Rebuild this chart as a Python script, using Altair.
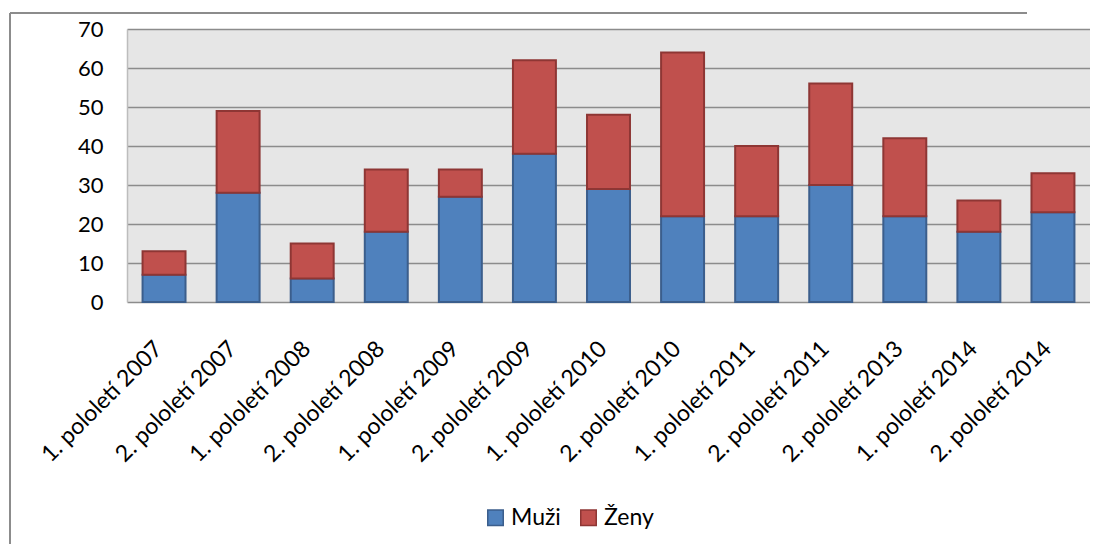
import altair as alt
import pandas as pd

periods = ["1. pololetí 2007", "2. pololetí 2007", "1. pololetí 2008", "2. pololetí 2008",
           "1. pololetí 2009", "2. pololetí 2009", "1. pololetí 2010", "2. pololetí 2010",
           "1. pololetí 2011", "2. pololetí 2011", "2. pololetí 2013", "1. pololetí 2014",
           "2. pololetí 2014"]
muzi = [7, 28, 6, 18, 27, 38, 29, 22, 22, 30, 22, 18, 23]
zeny = [6, 21, 9, 16, 7, 24, 19, 42, 18, 26, 20, 8, 10]
series = ["Muži", "Ženy"]
y_ticks = [0, 10, 20, 30, 40, 50, 60, 70]

rows = []
for p, m, z in zip(periods, muzi, zeny):
    rows.append({"obdobi": p, "serie": "Muži", "pocet": m, "poradi": 0})
    rows.append({"obdobi": p, "serie": "Ženy", "pocet": z, "poradi": 1})
df = pd.DataFrame(rows)

FONT = "Lato"

bars = alt.Chart(df).mark_bar(strokeWidth=2).encode(
    x=alt.X("obdobi:N", sort=periods, title=None,
            scale=alt.Scale(paddingInner=0.42, paddingOuter=0.21),
            axis=alt.Axis(labelAngle=-45, labelAlign="right", labelBaseline="top",
                          labelFontSize=23, labelFont=FONT, labelColor="#000000",
                          ticks=False, domain=False, labelPadding=35, labelOffset=-13,
                          grid=False, labelLimit=300)),
    y=alt.Y("pocet:Q", stack="zero", title=None,
            scale=alt.Scale(domain=[0, 70], nice=False),
            axis=alt.Axis(values=y_ticks, labelFontSize=22, labelFont=FONT,
                          labelColor="#000000", ticks=False, domain=True,
                          domainColor="#BDBDBD", domainWidth=1.5,
                          labelPadding=24, gridColor="#8C8C8C", gridWidth=1.6,
                          gridOpacity=1)),
    fill=alt.Fill("serie:N", sort=series, title=None,
                  scale=alt.Scale(domain=series, range=["#4F81BD", "#C0504D"]),
                  legend=alt.Legend(orient="none", legendX=357, legendY=477,
                                    direction="horizontal", symbolType="square",
                                    symbolSize=240, labelFontSize=23, labelFont=FONT,
                                    labelColor="#000000", columnPadding=16,
                                    labelOffset=4, padding=0, symbolStrokeWidth=1.5,
                                    symbolStrokeColor="#5A6E8C")),
    stroke=alt.Stroke("serie:N", sort=series, legend=None,
                      scale=alt.Scale(domain=series, range=["#3B5E8C", "#8E3634"])),
    order=alt.Order("poradi:Q"),
)

anchor = pd.DataFrame({"a": [0]})
frame_top = alt.Chart(anchor).mark_rule(stroke="#8C8C8C", strokeWidth=2).encode(
    x=alt.value(-117), x2=alt.value(900), y=alt.value(-16)
)
frame_left = alt.Chart(anchor).mark_rule(stroke="#8C8C8C", strokeWidth=2).encode(
    x=alt.value(-117), y=alt.value(-16), y2=alt.value(700)
)

chart = alt.layer(frame_top, frame_left, bars).properties(
    width=963, height=273,
    autosize=alt.AutoSizeParams(type="none"),
    padding={"left": 119, "top": 21, "right": 0, "bottom": 242},
    background="white",
).configure_view(
    fill="#E6E6E6", stroke=None
)

chart.save("out.html", embed_options={"renderer": "svg", "actions": False})
